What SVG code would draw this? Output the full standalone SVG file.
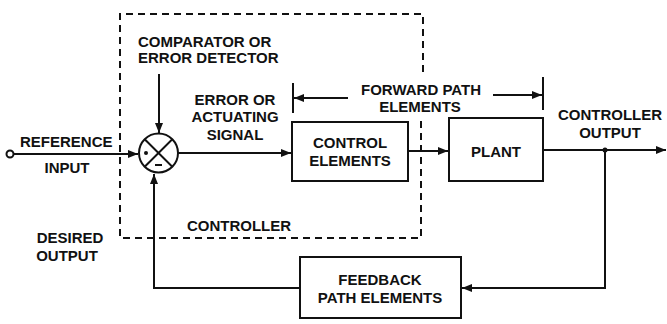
<svg xmlns="http://www.w3.org/2000/svg" width="667" height="324" viewBox="0 0 667 324">
<style>
text{font-family:"Liberation Sans",Arial,sans-serif;font-size:15px;font-weight:bold;fill:#111}
.m{text-anchor:middle}
.box{fill:#fff;stroke:#111;stroke-width:2}
.ln{fill:none;stroke:#111;stroke-width:2}
.dash{fill:none;stroke:#111;stroke-width:2;stroke-dasharray:7 5}
</style>
<defs>
<marker id="ah" viewBox="0 0 10 10" refX="10" refY="5" markerWidth="10" markerHeight="10" markerUnits="userSpaceOnUse" orient="auto">
<path d="M0,1 L10,5 L0,9 Z" fill="#111"/>
</marker>
</defs>
<rect width="667" height="324" fill="#fff"/>
<g id="controller-boundary">
<path class="dash" d="M423,72 L423,14 L120,14 L120,238 L421,238 L421,120"/>
<text class="m" x="239" y="231">CONTROLLER</text>
</g>
<g id="connectors">
<path class="ln" d="M14,154 L138,154" marker-end="url(#ah)"/>
<path class="ln" d="M159,74 L159,133" marker-end="url(#ah)"/>
<path class="ln" d="M178,153 L291,153" marker-end="url(#ah)"/>
<path class="ln" d="M408,151 L448,151" marker-end="url(#ah)"/>
<path class="ln" d="M543,150 L666,150" marker-end="url(#ah)"/>
<path class="ln" d="M605,150 L605,288 L462,288" marker-end="url(#ah)"/>
<path class="ln" d="M300,288 L154,288 L154,174" marker-end="url(#ah)"/>
<circle cx="605" cy="150" r="2.5" fill="#111"/>
<path class="ln" d="M293,83 L293,113"/>
<path class="ln" d="M348,98 L294,98" marker-end="url(#ah)"/>
<path class="ln" d="M543,77 L543,110"/>
<path class="ln" d="M493,95 L542,95" marker-end="url(#ah)"/>
</g>
<g id="reference-input">
<circle cx="10" cy="154" r="3.5" fill="#fff" stroke="#111" stroke-width="2"/>
<text x="20" y="147">REFERENCE</text>
<text class="m" x="67" y="173">INPUT</text>
<text class="m" x="70" y="243">DESIRED</text>
<text class="m" x="67" y="261">OUTPUT</text>
</g>
<g id="comparator">
<circle cx="158.5" cy="153" r="19.5" class="box"/>
<path class="ln" d="M144.7,139.2 L172.3,166.8 M172.3,139.2 L144.7,166.8"/>
<circle cx="146" cy="153" r="2" fill="#111"/>
<path class="ln" d="M155,165 L162,165" stroke-width="1.5"/>
<text x="138" y="47">COMPARATOR OR</text>
<text x="138" y="63">ERROR DETECTOR</text>
</g>
<g id="error-signal">
<text class="m" x="235" y="105">ERROR OR</text>
<text class="m" x="235" y="122">ACTUATING</text>
<text class="m" x="235" y="140">SIGNAL</text>
</g>
<g id="forward-path">
<text class="m" x="421" y="95">FORWARD PATH</text>
<text class="m" x="420" y="112">ELEMENTS</text>
</g>
<g id="control-elements">
<rect class="box" x="292" y="122" width="116" height="59"/>
<text class="m" x="350" y="148">CONTROL</text>
<text class="m" x="350" y="166">ELEMENTS</text>
</g>
<g id="plant">
<rect class="box" x="449" y="118" width="94" height="63"/>
<text class="m" x="496" y="157">PLANT</text>
</g>
<g id="controller-output">
<text class="m" x="610" y="120">CONTROLLER</text>
<text class="m" x="610" y="138">OUTPUT</text>
</g>
<g id="feedback">
<rect class="box" x="300" y="257" width="161" height="61"/>
<text class="m" x="380" y="285">FEEDBACK</text>
<text class="m" x="380" y="303">PATH ELEMENTS</text>
</g>
</svg>
